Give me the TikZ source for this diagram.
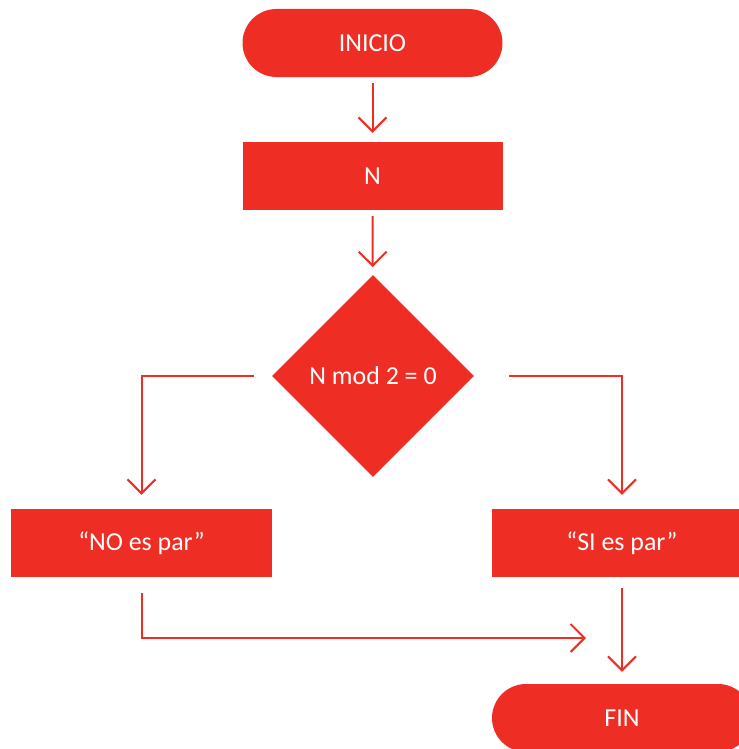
\documentclass[tikz,border=0pt]{standalone}
\usepackage{fontspec}
\setmainfont{Carlito}
\usetikzlibrary{arrows.meta,shapes.geometric}
\definecolor{flowred}{HTML}{EE2E24}

\begin{document}
\begin{tikzpicture}[x=1bp, y=-1bp, >={Straight Barb[length=14bp,width=28bp]},
  every node/.style={font=\fontsize{26}{30}\selectfont, text=white, fill=flowred, inner sep=0pt},
  terminal/.style={rectangle, rounded corners=34bp, minimum width=260bp, minimum height=68bp},
  process/.style={rectangle, minimum width=260bp, minimum height=68bp},
  decision/.style={diamond, minimum width=202bp, minimum height=202bp},
  flow/.style={->, draw=flowred, line width=2bp}]
\useasboundingbox (0,0) rectangle (739,749);
\clip (0,0) rectangle (739,749);

\node[terminal] (inicio) at (372.5,43) {INICIO};
\node[process] (n) at (372.5,176) {N};
\node[decision] (cond) at (373,376) {N mod 2 = 0};
\node[process] (no) at (141.5,543) {“NO es par”};
\node[process] (si) at (622,543) {“SI es par”};
\node[terminal] (fin) at (622,718) {FIN};
\coordinate (join) at (586,638);

\draw[flow, shorten <=6bp, shorten >=9bp] (inicio) -- (n);
\draw[flow, shorten <=6bp, shorten >=8bp] (n) -- (cond);
\draw[flow, shorten <=18bp, shorten >=14bp] (cond.west) -| (no.north);
\draw[flow, shorten <=35bp, shorten >=14bp] (cond.east) -| (si.north);
\draw[flow, shorten <=16bp] (no.south) |- (join);
\draw[flow, shorten <=11bp, shorten >=12bp] (si.south) -- (fin.north);
\end{tikzpicture}
\end{document}
